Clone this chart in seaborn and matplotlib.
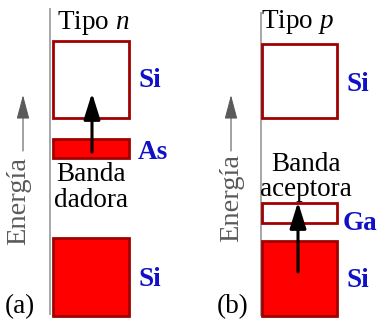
import matplotlib
matplotlib.use("Agg")
import matplotlib.pyplot as plt
import seaborn as sns

sns.set_theme(style="white")
plt.rcParams["font.family"] = ["Liberation Serif", "DejaVu Serif"]
plt.rcParams["mathtext.fontset"] = "custom"
plt.rcParams["mathtext.rm"] = "Liberation Serif"
plt.rcParams["mathtext.it"] = "Liberation Serif:italic"
plt.rcParams["mathtext.bf"] = "Liberation Serif:bold"

# Energy bands (arbitrary energy units) for the two doped semiconductors
panel_tags = ["(a)", "(b)"]
panel_titles = ["Tipo $\\mathit{n}$", "Tipo $\\mathit{p}$"]
band_names = [["Si", "As", "Si"], ["Si", "Ga", "Si"]]
band_bottom = [[202, 162, 4], [202, 97, 4]]
band_top = [[279, 181, 82], [276, 117, 79]]
band_filled = [[False, True, True], [False, False, True]]
impurity_caption = [["Banda", "dadora"], ["Banda", "aceptora"]]
# electron transition (from, to) in energy units
transition = [(168, 227), (48, 118)]

# layout of each panel
band_x = [91, 299.5]
band_w = [76, 75]
axis_x = [50, 261]
axis_span = [(5, 312), (4, 308)]
name_x = [[138, 138, 138], [347, 343, 347]]
name_base = [[233, 161, 34], [229, 90, 33]]
title_x = [93, 297]
title_base = [291, 292]
caption_x = [91, 306]
caption_base = [[139, 113], [149, 124]]
tag_x = [5, 217]
energy_x = [19, 232]
energy_bottom = [75, 78]
energy_arrow_x = [23, 231]

edge_col = "#a00000"
fill_col = "#ff0000"
name_col = "#1010c8"
grey = "#5a5a5a"
fs = 19.5

fig = plt.figure(figsize=(3.78, 3.2), dpi=100)
ax = fig.add_axes([0, 0, 1, 1])
ax.set_xlim(0, 378)
ax.set_ylim(0, 320)
ax.axis("off")

for i in range(2):
    heights = [t - b for t, b in zip(band_top[i], band_bottom[i])]
    faces = [fill_col if f else "white" for f in band_filled[i]]
    ax.bar([band_x[i]] * 3, heights, width=band_w[i], bottom=band_bottom[i],
           color=faces, edgecolor=edge_col, linewidth=2.0, zorder=2)
    for name, xl, yb in zip(band_names[i], name_x[i], name_base[i]):
        ax.text(xl, yb, name, color=name_col, fontsize=fs,
                fontweight="bold", ha="left", va="baseline")

    # energy axis line
    ax.plot([axis_x[i], axis_x[i]], axis_span[i], color="#a0a0a0", lw=1.3,
            solid_capstyle="butt", zorder=1)

    ax.text(title_x[i], title_base[i], panel_titles[i], fontsize=fs,
            ha="center", va="baseline", color="black")
    for line, yb in zip(impurity_caption[i], caption_base[i]):
        ax.text(caption_x[i], yb, line, fontsize=fs, ha="center",
                va="baseline", color="black")
    ax.text(tag_x[i], 7, panel_tags[i], fontsize=fs, ha="left",
            va="baseline", color="black")

    # "Energía" label with its arrow
    ax.text(energy_x[i], energy_bottom[i], "Energía", rotation=90,
            fontsize=20.5, color=grey, ha="center", va="bottom")
    ax.annotate("", xy=(energy_arrow_x[i], 225),
                xytext=(energy_arrow_x[i], 169),
                arrowprops=dict(arrowstyle="-|>,head_length=0.75,head_width=0.2",
                                mutation_scale=20, color=grey, lw=0.8,
                                shrinkA=0, shrinkB=0))

    # electron transition arrow
    y0, y1 = transition[i]
    ax.annotate("", xy=(band_x[i] + (1 if i == 0 else -1.5), y1),
                xytext=(band_x[i] + (1 if i == 0 else -1.5), y0),
                arrowprops=dict(arrowstyle="-|>,head_length=0.8,head_width=0.25",
                                mutation_scale=20, color="black", lw=2.2,
                                shrinkA=0, shrinkB=0), zorder=3)

fig.savefig("out.png", dpi=100)
